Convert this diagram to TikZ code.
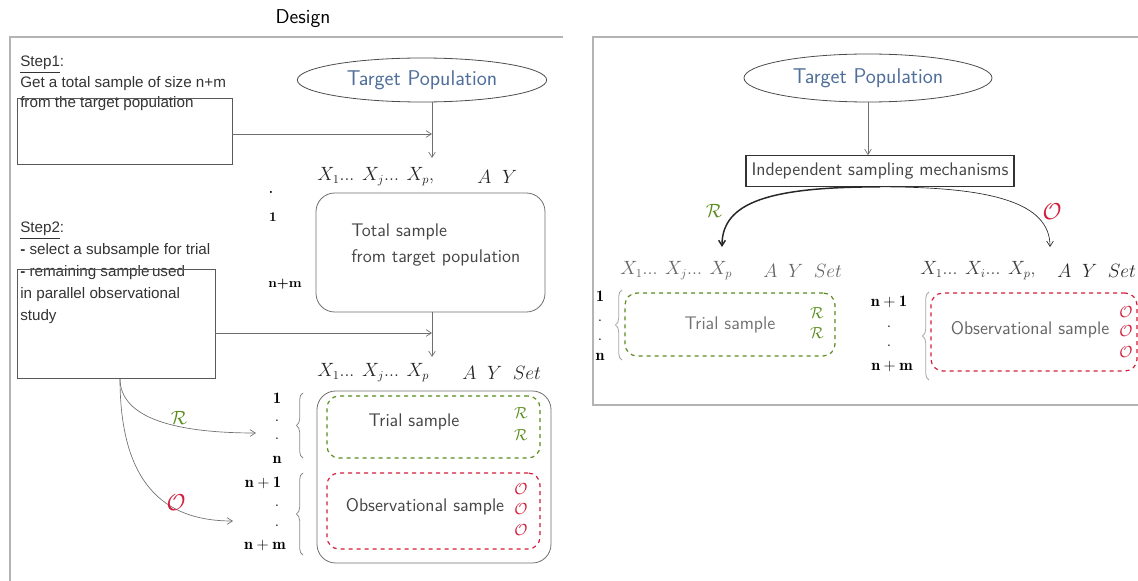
\documentclass[tikz,border=0pt]{standalone}
\usepackage{fontspec}
\newfontfamily\arialf{Liberation Sans}
\usetikzlibrary{shapes.geometric,arrows.meta,decorations.pathreplacing,fit,calc}
\definecolor{framegrey}{HTML}{B4B4B4}
\definecolor{linegrey}{HTML}{6E6E6E}
\definecolor{txtgrey}{HTML}{454545}
\definecolor{popblue}{HTML}{4F6E99}
\definecolor{trialgreen}{HTML}{5A8C1E}
\definecolor{obsred}{HTML}{D31D3B}
\tikzset{
  frame/.style={draw=framegrey, line width=0.8pt},
  plainbox/.style={draw=black!65, line width=0.6pt, inner sep=0pt},
  roundbox/.style={draw=linegrey, line width=0.6pt, rounded corners=14pt, inner sep=0pt},
  trialbox/.style={draw=trialgreen, line width=0.9pt, dashed, rounded corners=9pt, inner sep=0pt},
  obsbox/.style={draw=obsred, line width=0.9pt, dashed, rounded corners=9pt, inner sep=0pt},
  popell/.style={ellipse, draw=black!70, line width=0.6pt, inner sep=0pt, text=popblue,
    font=\sffamily\fontsize{16}{18}\selectfont},
  arr/.style={draw=linegrey, line width=0.5pt, -{Straight Barb[length=4pt,width=5pt]}},
  arrthick/.style={draw=black!85, line width=1.1pt, -{Straight Barb[length=4pt,width=5pt]}},
  steptext/.style={inner sep=0pt, align=left, text=black!80, font=\arialf\fontsize{11.4}{15.4}\selectfont},
  sanstxt/.style={inner sep=0pt, text=txtgrey, font=\sffamily\fontsize{13.7}{19}\selectfont},
  hdr/.style={inner sep=0pt, text=black!85, font=\fontsize{13.5}{16}\selectfont},
  boldlab/.style={inner sep=0pt, text=black, font=\fontsize{12}{14}\selectfont},
  smalllab/.style={inner sep=0pt, text=black, font=\fontsize{10}{12}\selectfont},
  rmark/.style={inner sep=0pt, text=trialgreen, font=\fontsize{12.5}{14}\selectfont},
  omark/.style={inner sep=0pt, text=obsred, font=\fontsize{12.5}{14}\selectfont},
  rbig/.style={inner sep=0pt, text=trialgreen, font=\fontsize{15}{16}\selectfont},
  obig/.style={inner sep=0pt, text=obsred, font=\fontsize{16}{18}\selectfont},
  bracestyle/.style={draw=black!45, line width=0.6pt, decorate, decoration={brace, amplitude=5pt}},
}
\begin{document}
\begin{tikzpicture}[x=0.75pt,y=-0.75pt]
\useasboundingbox (0,0) rectangle (1138,581);

% ---------------- left panel: design ----------------
\draw[frame] (10,583) -- (10,37) -- (563,37);
\node[font=\sffamily\fontsize{15}{18}\selectfont] (title) at (303,19) {Design};

\node[steptext, anchor=north west] (step1) at (20,56)
  {\underline{Step1}:\\Get a total sample of size n+m\\from the target population};
\node[plainbox, fit={(17,98) (232,164)}] (box1) {};

\node[popell, minimum width=187pt, minimum height=33pt] (popL) at (422,80) {Target Population};
\coordinate (jL1) at (432,134);
\coordinate (tipL1) at (432,158);
\draw[arr] (popL.south -| jL1) -- (tipL1);
\draw[arr] (box1.east |- jL1) -- (jL1);

\node[hdr, anchor=west] (hX1) at (317,177) {$X_1$... $X_j$... $X_p$,};
\node[hdr, anchor=west] (hAY1) at (477,177) {$A\;\;Y$};

\node[smalllab, anchor=base] (dot0) at (271,194) {\textbf{.}};
\node[smalllab, anchor=base] (one0) at (273,221) {\textbf{1}};
\node[smalllab, anchor=base] (nm0) at (285,287) {\textbf{n+m}};

\node[roundbox, fit={(316,193) (545,312)}] (total) {};
\node[sanstxt, anchor=west, align=left] (totaltxt) at (351,245) {Total sample\\from target population};

\node[steptext, anchor=north west, font=\arialf\fontsize{11.4}{16.5}\selectfont] (step2) at (20,222)
  {\underline{Step2}:\\\textbf{-} select a subsample for trial\\\textbf{-} remaining sample\,used\\in parallel observational\\study};
\node[plainbox, fit={(17,269) (215,378)}] (box2) {};

\coordinate (jL2) at (432,333);
\coordinate (tipL2) at (432,357);
\draw[arr] (total.south -| jL2) -- (tipL2);
\draw[arr] (box2.east |- jL2) -- (jL2);

\node[hdr, anchor=west] (hX2) at (317,373) {$X_1$... $X_j$... $X_p$};
\node[hdr, anchor=west] (hAY2) at (462,373) {$A\;\;Y\;\;Set$};

\node[roundbox, fit={(317,391) (551,563)}] (bigL) {};
\node[trialbox, fit={(327,396) (540,458)}] (trialL) {};
\node[obsbox, fit={(327,473) (540,549)}] (obsL) {};
\node[sanstxt] (trialLtxt) at (414,422) {Trial sample};
\node[rmark] (rL1) at (521,413) {$\mathcal{R}$};
\node[rmark] (rL2) at (521,435) {$\mathcal{R}$};
\node[sanstxt] (obsLtxt) at (425,507) {Observational sample};
\node[omark] (oL1) at (521,489) {$\mathcal{O}$};
\node[omark] (oL2) at (521,509) {$\mathcal{O}$};
\node[omark] (oL3) at (521,530) {$\mathcal{O}$};

\node[boldlab] (l1) at (277,398) {$\mathbf{1}$};
\node[boldlab] (l2) at (277,421) {$\mathbf{.}$};
\node[boldlab] (l3) at (277,439) {$\mathbf{.}$};
\node[boldlab] (l4) at (277,460) {$\mathbf{n}$};
\node[boldlab] (l5) at (263,483) {$\mathbf{n+1}$};
\node[boldlab] (l6) at (277,506) {$\mathbf{.}$};
\node[boldlab] (l7) at (277,526) {$\mathbf{.}$};
\node[boldlab] (l8) at (265,545) {$\mathbf{n+m}$};
\draw[bracestyle] (303,458) -- (303,393);
\draw[bracestyle] (303,555) -- (303,473);

\coordinate (rTipL) at (256,433);
\coordinate (oTipL) at (233,521);
\draw[arr] ([xshift=3pt]box2.south) .. controls +(0,40) and +(-80,0) .. (rTipL);
\draw[arr] ([xshift=3pt]box2.south) .. controls +(0,115) and +(-60,0) .. (oTipL);
\node[rbig] (Rlab) at (179,418) {$\mathcal{R}$};
\node[obig] (Olab) at (176,503) {$\mathcal{O}$};

% ---------------- right panel: independent sampling ----------------
\draw[frame] (1142,37) -- (593,37) -- (593,405) -- (1142,405);
\node[popell, minimum width=186pt, minimum height=36pt] (popR) at (868,78) {Target Population};
\node[draw=black!80, line width=0.8pt, inner sep=0pt, minimum width=201pt, minimum height=23pt,
  text=txtgrey, font=\sffamily\fontsize{13.7}{16}\selectfont] (mech) at (880,171)
  {Independent sampling mechanisms};
\draw[arr] (popR.south) -- (popR.south |- mech.north);

\coordinate (rTipR) at (722,247);
\coordinate (oTipR) at (1050,247);
\draw[arrthick] (mech.south) .. controls +(-110,0) and +(0,-45) .. (rTipR);
\draw[arr, draw=black!85] (mech.south) .. controls +(110,0) and +(0,-45) .. (oTipR);
\node[rbig] (RlabR) at (714,211) {$\mathcal{R}$};
\node[obig] (OlabR) at (1052,212) {$\mathcal{O}$};

\node[hdr, anchor=west, text=black!60] (hXR1) at (620,271) {$X_1$... $X_j$... $X_p$};
\node[hdr, anchor=west, text=black!60] (hAYR1) at (763,271) {$A\;\;Y\;\;Set$};
\node[hdr, anchor=west, text=black!75] (hXR2) at (920,271) {$X_1$... $X_i$... $X_p$,};
\node[hdr, anchor=west] (hAYR2) at (1057,271) {$A\;\;Y\;\;Set$};

\node[boldlab] (r1) at (600,296) {$\mathbf{1}$};
\node[boldlab] (r2) at (600,321) {$\mathbf{.}$};
\node[boldlab] (r3) at (600,340) {$\mathbf{.}$};
\node[boldlab] (r4) at (600,357) {$\mathbf{n}$};
\draw[bracestyle, draw=black!35] (622,360) -- (622,290);
\node[trialbox, fit={(625,293) (835,356)}] (trialR) {};
\node[sanstxt, text=black!55] (trialRtxt) at (730,325) {Trial sample};
\node[rmark] (rR1) at (817,313) {$\mathcal{R}$};
\node[rmark] (rR2) at (817,333) {$\mathcal{R}$};

\node[boldlab] (s1) at (889,302) {$\mathbf{n+1}$};
\node[boldlab] (s2) at (889,327) {$\mathbf{.}$};
\node[boldlab] (s3) at (889,346) {$\mathbf{.}$};
\node[boldlab] (s4) at (892,366) {$\mathbf{n+m}$};
\draw[bracestyle, draw=black!35] (929,380) -- (929,292);
\node[obsbox, fit={(931,293) (1137,371)}] (obsR) {};
\node[sanstxt, text=black!60] (obsRtxt) at (1030,330) {Observational sample};
\node[omark] (oR1) at (1126,312) {$\mathcal{O}$};
\node[omark] (oR2) at (1126,331) {$\mathcal{O}$};
\node[omark] (oR3) at (1126,352) {$\mathcal{O}$};
\end{tikzpicture}
\end{document}
